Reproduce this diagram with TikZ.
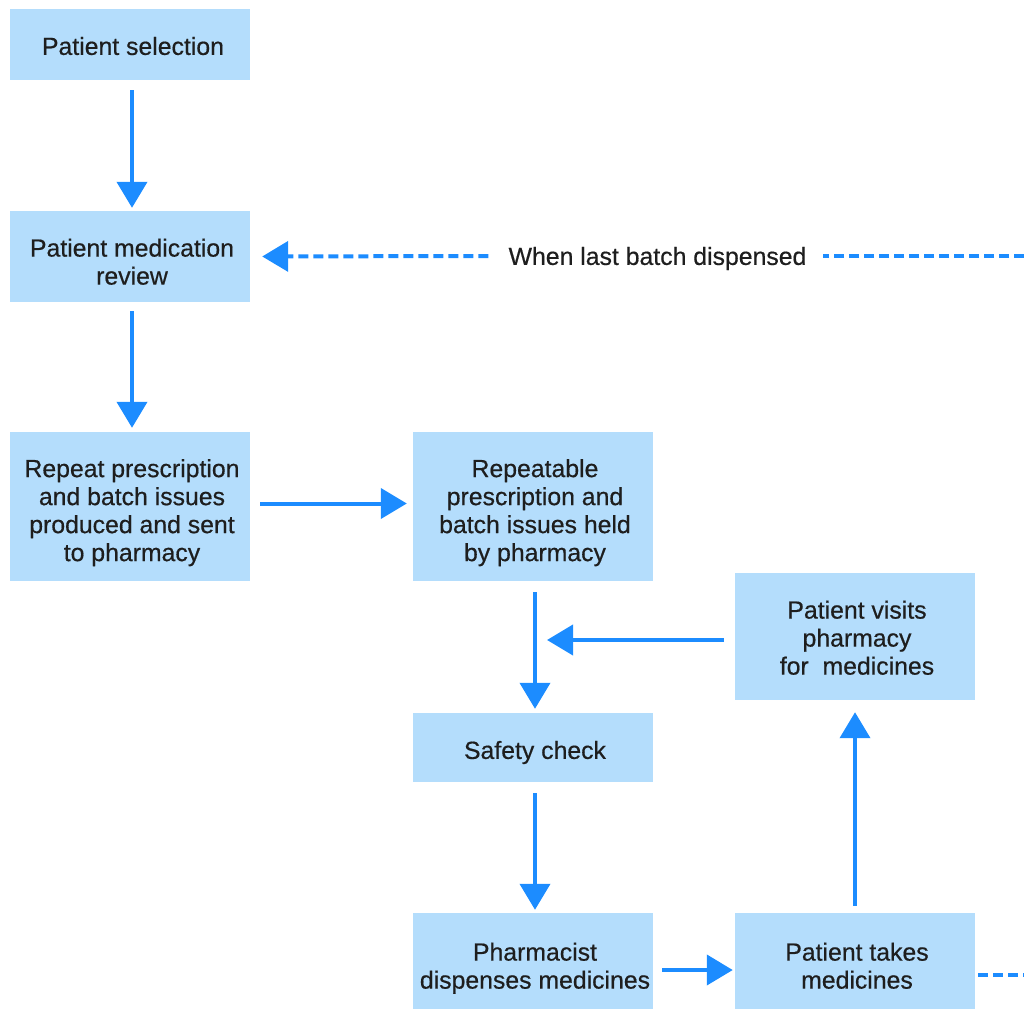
\documentclass[tikz,border=0pt]{standalone}
\usepackage{fontspec}
\setmainfont{Liberation Sans}[FakeBold=0.5]
\usetikzlibrary{arrows.meta}
\definecolor{boxblue}{RGB}{180,221,252}
\definecolor{arrblue}{RGB}{28,140,255}
\definecolor{txt}{RGB}{30,30,30}
\tikzset{
  box/.style={fill=boxblue, draw=none, minimum width=240pt, inner sep=0pt},
  btext/.style={align=center, inner sep=0pt, font=\fontsize{24.8}{28}\selectfont, text=txt,
    execute at begin node=\strut, execute at end node=\strut},
  flow/.style={draw=arrblue, line width=4pt, -{Triangle[length=26pt,width=30pt]}},
  dflow/.style={draw=arrblue, line width=4pt, dash pattern=on 10pt off 5pt},
}
\begin{document}
\begin{tikzpicture}[x=1pt,y=1pt]
\useasboundingbox (0,0) rectangle (1024,-1010);
\node[box, minimum height=71pt] (sel) at (130,-44.5) {};
\node[box, minimum height=91pt] (rev) at (130,-256.5) {};
\node[box, minimum height=149pt] (rep) at (130,-506.5) {};
\node[box, minimum height=149pt] (held) at (533,-506.5) {};
\node[box, minimum height=127pt] (visit) at (855,-636.5) {};
\node[box, minimum height=69pt] (safe) at (533,-747.5) {};
\node[box, minimum height=96pt] (disp) at (533,-961) {};
\node[box, minimum height=96pt] (take) at (855,-961) {};

\node[btext] (tsel) at (133,-49.3) {Patient selection};
\node[btext] (trev) at (132,-265.8) {Patient medication\\review};
\node[btext] (trep) at (132,-514.3) {Repeat prescription\\and batch issues\\produced and sent\\to pharmacy};
\node[btext] (theld) at (535,-514.3) {Repeatable\\prescription and\\batch issues held\\by pharmacy};
\node[btext] (tvisit) at (857,-641.8) {Patient visits\\pharmacy\\for\ \ medicines};
\node[btext] (tsafe) at (535,-753.3) {Safety check};
\node[btext] (tdisp) at (535,-969.8) {Pharmacist\\dispenses medicines};
\node[btext] (ttake) at (857,-969.8) {Patient takes\\medicines};

\node[btext, inner xsep=16pt] (lbl) at (657.5,-259.3) {When last batch dispensed};
\coordinate (rtop) at (1024,-256);
\coordinate (rbot) at (1024,-975);
\coordinate (join) at (547,-640);

\draw[flow, shorten <=10pt, shorten >=3pt] ([xshift=2pt]sel.south) -- ([xshift=2pt]rev.north);
\draw[flow, shorten <=9pt, shorten >=4pt] ([xshift=2pt]rev.south) -- ([xshift=2pt]rep.north);
\draw[flow, shorten <=10pt, shorten >=6pt] ([yshift=3pt]rep.east) -- ([yshift=3pt]held.west);
\draw[flow, shorten <=11pt, shorten >=4pt] ([xshift=2pt]held.south) -- ([xshift=2pt]safe.north);
\draw[flow, shorten <=11pt] ([yshift=-3.5pt]visit.west) -- (join);
\draw[flow, shorten <=11pt, shorten >=3pt] ([xshift=2pt]safe.south) -- ([xshift=2pt]disp.north);
\draw[flow, shorten <=9pt, shorten >=2pt] ([yshift=-9pt]disp.east) -- ([yshift=-9pt]take.west);
\draw[flow, shorten <=7pt, shorten >=12pt] (take.north) -- (visit.south);
\draw[dflow] ([yshift=-14pt]take.east) ++(3pt,0) -- (rbot);
\draw[dflow] (rtop) -- ([yshift=3.3pt]lbl.east);
\draw[dflow, -{Triangle[length=26pt,width=30pt]}, shorten >=12pt] ([xshift=-4pt,yshift=3.3pt]lbl.west) -- (rev.east);
\end{tikzpicture}
\end{document}
